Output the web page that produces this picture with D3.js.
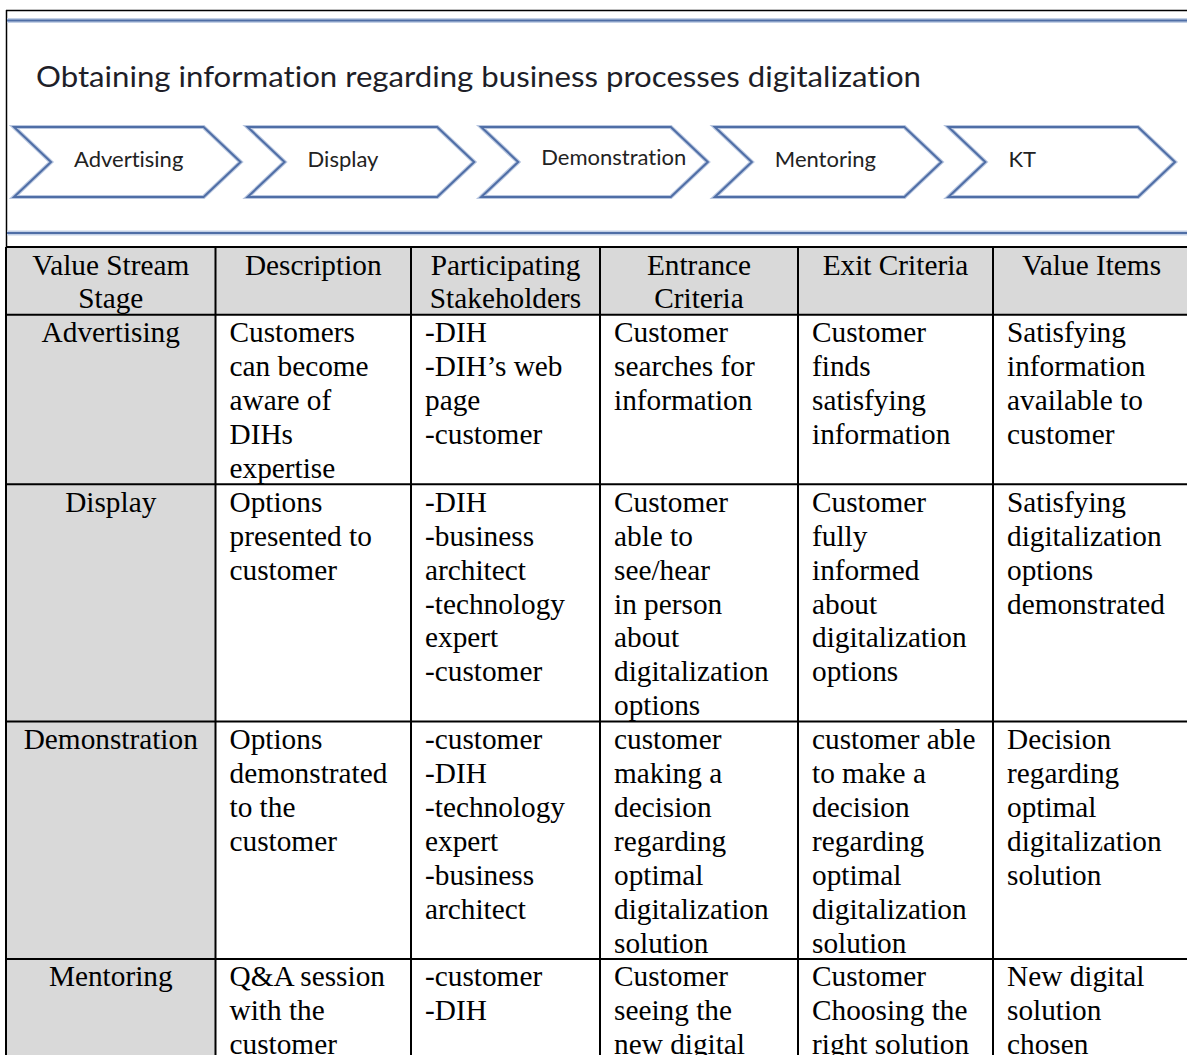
<!DOCTYPE html>
<html>
<head>
<meta charset="utf-8">
<script src="https://cdn.jsdelivr.net/npm/d3@7"></script>
<style>
  html, body { margin: 0; padding: 0; background: #ffffff; }
  svg { display: block; }
  text { font-variant-ligatures: none; }
</style>
</head>
<body>
<div id="chart"></div>
<script>
// ---------- DATA ----------
const title = "Obtaining information regarding business processes digitalization";
const processSteps = ["Advertising", "Display", "Demonstration", "Mentoring", "KT"];
const columns = ["stage", "description", "stakeholders", "entrance", "exit", "value"];
const headers = [["Value Stream", "Stage"], ["Description"], ["Participating", "Stakeholders"], ["Entrance", "Criteria"], ["Exit Criteria"], ["Value Items"]];
const stages = ["Advertising", "Display", "Demonstration", "Mentoring"];
const descriptions = [
  ["Customers", "can become", "aware of", "DIHs", "expertise"],
  ["Options", "presented to", "customer"],
  ["Options", "demonstrated", "to the", "customer"],
  ["Q&A session", "with the", "customer"]
];
const stakeholders = [
  ["-DIH", "-DIH\u2019s web", "page", "-customer"],
  ["-DIH", "-business", "architect", "-technology", "expert", "-customer"],
  ["-customer", "-DIH", "-technology", "expert", "-business", "architect"],
  ["-customer", "-DIH"]
];
const entranceCriteria = [
  ["Customer", "searches for", "information"],
  ["Customer", "able to", "see/hear", "in person", "about", "digitalization", "options"],
  ["customer", "making a", "decision", "regarding", "optimal", "digitalization", "solution"],
  ["Customer", "seeing the", "new digital"]
];
const exitCriteria = [
  ["Customer", "finds", "satisfying", "information"],
  ["Customer", "fully", "informed", "about", "digitalization", "options"],
  ["customer able", "to make a", "decision", "regarding", "optimal", "digitalization", "solution"],
  ["Customer", "Choosing the", "right solution"]
];
const valueItems = [
  ["Satisfying", "information", "available to", "customer"],
  ["Satisfying", "digitalization", "options", "demonstrated"],
  ["Decision", "regarding", "optimal", "digitalization", "solution"],
  ["New digital", "solution", "chosen"]
];

// ---------- LAYOUT ----------
const W = 1187, H = 1055;
const colEdges = [6, 215.5, 411, 600, 798, 993, 1190];
const tableTop = 247;
const lineH = 33.9;
const baseOff = 27.5;
const padL = 14;
const serif = "'Liberation Serif', 'Times New Roman', serif";
const sans = "Lato, 'Open Sans', sans-serif";
const grey = "#d9d9d9";
const blue = "#4f6ea6";

const svg = d3.select("#chart").append("svg")
  .attr("width", W).attr("height", H)
  .attr("viewBox", `0 0 ${W} ${H}`);

svg.append("rect").attr("width", W).attr("height", H).attr("fill", "#fff");

// outer frame (black)
svg.append("line").attr("x1", 6).attr("x2", W).attr("y1", 10.5).attr("y2", 10.5)
  .attr("stroke", "#000").attr("stroke-width", 1.5);
svg.append("line").attr("x1", 6.5).attr("x2", 6.5).attr("y1", 10).attr("y2", tableTop)
  .attr("stroke", "#000").attr("stroke-width", 1.5);

// blue rules
[20.5, 233].forEach(y => {
  svg.append("line").attr("x1", 7).attr("x2", W).attr("y1", y).attr("y2", y)
    .attr("stroke", "#c3d0e6").attr("stroke-width", 5);
  svg.append("line").attr("x1", 7).attr("x2", W).attr("y1", y).attr("y2", y)
    .attr("stroke", blue).attr("stroke-width", 2.2);
});

// title
svg.append("text")
  .attr("x", 36).attr("y", 87)
  .attr("font-family", sans).attr("font-size", 29.5)
  .attr("fill", "#1e1e28")
  .attr("textLength", 885).attr("lengthAdjust", "spacingAndGlyphs")
  .text(title);

// chevrons
const xStep = d3.scaleBand().domain(processSteps).range([14, 1175]).paddingInner(0.03).paddingOuter(0);
const yChev = d3.scaleLinear().domain([0, 1]).range([127, 197]);
const depth = 37;
const chev = svg.append("g").selectAll("g").data(processSteps).join("g");
chev.append("path")
  .attr("d", d => {
    const x0 = xStep(d), w = xStep.bandwidth();
    const t = yChev(0), b = yChev(1), m = yChev(0.5);
    return `M${x0},${t} L${x0 + w - depth},${t} L${x0 + w},${m} L${x0 + w - depth},${b} L${x0},${b} L${x0 + depth},${m} Z`;
  })
  .attr("fill", "#fff")
  .attr("stroke", "#b9c7e0").attr("stroke-width", 4.2).attr("stroke-linejoin", "miter");
chev.append("path")
  .attr("d", d => {
    const x0 = xStep(d), w = xStep.bandwidth();
    const t = yChev(0), b = yChev(1), m = yChev(0.5);
    return `M${x0},${t} L${x0 + w - depth},${t} L${x0 + w},${m} L${x0 + w - depth},${b} L${x0},${b} L${x0 + depth},${m} Z`;
  })
  .attr("fill", "none")
  .attr("stroke", blue).attr("stroke-width", 2).attr("stroke-linejoin", "miter");
chev.append("text")
  .attr("x", d => xStep(d) + 60)
  .attr("y", d => d === "Demonstration" ? 165 : 167)
  .attr("font-family", sans).attr("font-size", 22)
  .attr("fill", "#222")
  .text(d => d);

// table rows
const bodyCols = [stages.map(s => [s]), descriptions, stakeholders, entranceCriteria, exitCriteria, valueItems];
const rows = [{ header: true, cells: headers }];
stages.forEach((s, i) => rows.push({ header: false, cells: bodyCols.map(c => c[i]) }));
let yAcc = tableTop;
rows.forEach(r => {
  r.nLines = d3.max(r.cells, c => c.length);
  r.y0 = yAcc;
  r.h = r.nLines * lineH;
  yAcc += r.h;
});

const xCol = d3.scaleOrdinal().domain(columns).range(colEdges.slice(0, 6));
const xColEnd = d3.scaleOrdinal().domain(columns).range(colEdges.slice(1));

const table = svg.append("g");
rows.forEach(r => {
  columns.forEach((c, ci) => {
    const x0 = xCol(c), x1 = xColEnd(c);
    const filled = r.header || ci === 0;
    table.append("rect")
      .attr("x", x0).attr("y", r.y0)
      .attr("width", x1 - x0).attr("height", r.h)
      .attr("fill", filled ? grey : "#fff")
      .attr("stroke", "none");
  });
});
// grid lines
rows.forEach(r => {
  table.append("line").attr("x1", colEdges[0]).attr("x2", colEdges[6])
    .attr("y1", r.y0).attr("y2", r.y0).attr("stroke", "#000").attr("stroke-width", 2);
});
table.append("line").attr("x1", colEdges[0]).attr("x2", colEdges[6])
  .attr("y1", yAcc).attr("y2", yAcc).attr("stroke", "#000").attr("stroke-width", 2);
colEdges.forEach(x => {
  table.append("line").attr("x1", x).attr("x2", x)
    .attr("y1", tableTop).attr("y2", yAcc).attr("stroke", "#000").attr("stroke-width", 2);
});

// cell texts
rows.forEach(r => {
  columns.forEach((c, ci) => {
    const x0 = xCol(c), x1 = xColEnd(c);
    const centered = r.header || ci === 0;
    const lines = r.cells[ci];
    table.append("g").selectAll("text").data(lines).join("text")
      .attr("x", centered ? (x0 + x1) / 2 : x0 + padL)
      .attr("y", (d, li) => r.y0 + li * lineH + baseOff)
      .attr("text-anchor", centered ? "middle" : "start")
      .attr("font-family", serif).attr("font-size", 29.3)
      .attr("fill", "#000")
      .text(d => d);
  });
});
</script>
</body>
</html>
